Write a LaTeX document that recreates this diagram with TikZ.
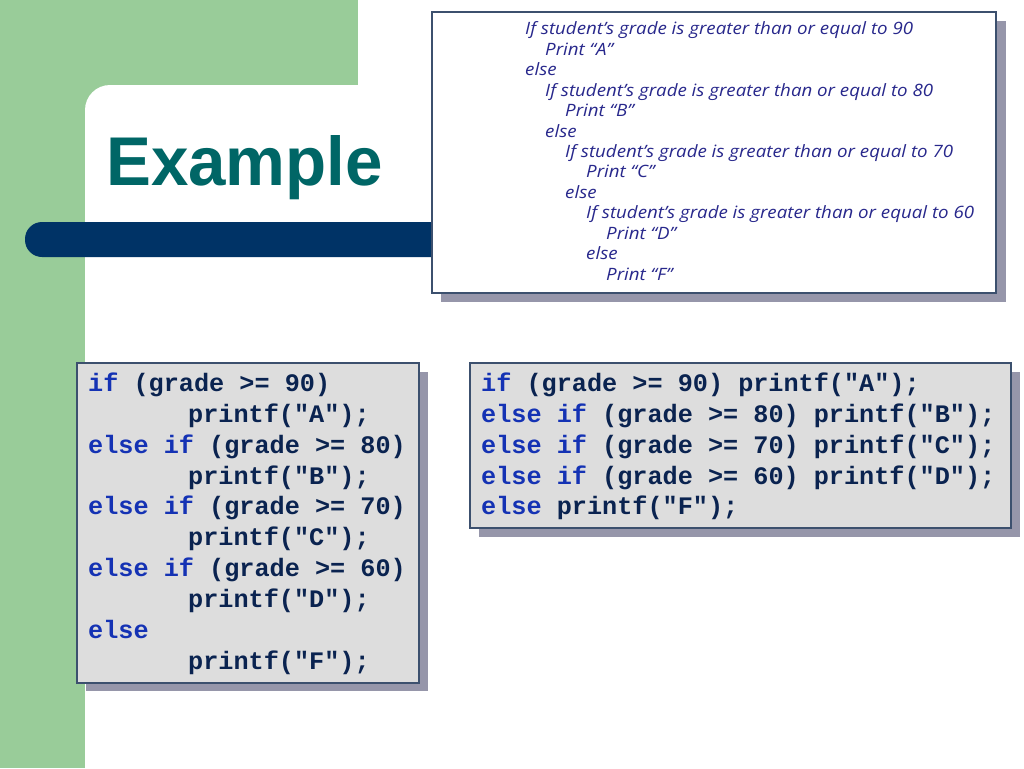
\documentclass[tikz,border=0pt]{standalone}
\usepackage{fontspec}
\setmainfont{Liberation Sans}
\newfontfamily\titlefont{Liberation Sans}
\newfontfamily\codefont{Liberation Mono}
\newfontfamily\notefont{Open Sans}
\definecolor{slgreen}{RGB}{153,204,153}
\definecolor{slbar}{RGB}{0,51,102}
\definecolor{sltitle}{RGB}{0,102,102}
\definecolor{shadowc}{RGB}{150,150,170}
\definecolor{borderc}{RGB}{60,80,110}
\definecolor{codebg}{RGB}{221,221,221}
\definecolor{kw}{RGB}{20,50,180}
\definecolor{codetx}{RGB}{10,35,80}
\definecolor{notec}{RGB}{40,40,140}
\begin{document}
\begin{tikzpicture}[x=1pt,y=-1pt,
  box/.style={draw=borderc,line width=1.2pt},
  noteline/.style={anchor=base west,inner sep=0pt,text=notec,xscale=1.1,font=\notefont\itshape\fontsize{17}{19}\selectfont},
  codeline/.style={anchor=base west,inner sep=0pt,text=codetx,font=\codefont\bfseries\fontsize{25.2}{28}\selectfont}]
\useasboundingbox (0,0) rectangle (1024,768);
\fill[white] (0,0) rectangle (1024,768);
% green background
\fill[slgreen] (0,0) rectangle (358,85);
\fill[slgreen] (0,0) rectangle (85,768);
\fill[slgreen] (85,85) rectangle (115,115);
\fill[white,rounded corners=25pt] (85,85) rectangle (200,200);
% blue bar
\fill[slbar,rounded corners=17pt] (25,222) rectangle (640,257);
% title
\node[anchor=base west,inner sep=0pt,text=sltitle,font=\titlefont\bfseries\fontsize{69}{80}\selectfont,xscale=0.975] (title) at (106,185) {Example};
% top note box
\fill[shadowc] (441,21) rectangle (1006,302);
\fill[white] (432,12) rectangle (996,293);
\draw[box] (432,12) rectangle (996,293);
\node[noteline] (t1) at (525,35) {If student’s grade is greater than or equal to 90};
\node[noteline] (t2) at (545,55.4) {Print “A”};
\node[noteline] (t3) at (525,75.8) {else};
\node[noteline] (t4) at (545,96.3) {If student’s grade is greater than or equal to 80};
\node[noteline] (t5) at (565,116.7) {Print “B”};
\node[noteline] (t6) at (545,137.1) {else};
\node[noteline] (t7) at (565,157.5) {If student’s grade is greater than or equal to 70};
\node[noteline] (t8) at (586,177.9) {Print “C”};
\node[noteline] (t9) at (565,198.4) {else};
\node[noteline] (t10) at (586,218.8) {If student’s grade is greater than or equal to 60};
\node[noteline] (t11) at (606,239.2) {Print “D”};
\node[noteline] (t12) at (586,259.6) {else};
\node[noteline] (t13) at (606,280) {Print “F”};
% left code box
\fill[shadowc] (86,372) rectangle (428,691);
\fill[codebg] (77,363) rectangle (419,683);
\draw[box] (77,363) rectangle (419,683);
\node[codeline] (L1) at (88,391) {{\color{kw}if} (grade >= 90)};
\node[codeline] (L2) at (188,422) {printf("A");};
\node[codeline] (L3) at (88,453) {{\color{kw}else if} (grade >= 80)};
\node[codeline] (L4) at (188,484) {printf("B");};
\node[codeline] (L5) at (88,514) {{\color{kw}else if} (grade >= 70)};
\node[codeline] (L6) at (188,545) {printf("C");};
\node[codeline] (L7) at (88,576) {{\color{kw}else if} (grade >= 60)};
\node[codeline] (L8) at (188,607) {printf("D");};
\node[codeline] (L9) at (88,638) {{\color{kw}else}};
\node[codeline] (L10) at (188,669) {printf("F");};
% right code box
\fill[shadowc] (479,372) rectangle (1020,537);
\fill[codebg] (470,363) rectangle (1011,528);
\draw[box] (470,363) rectangle (1011,528);
\node[codeline] (R1) at (481,391) {{\color{kw}if} (grade >= 90) printf("A");};
\node[codeline] (R2) at (481,422) {{\color{kw}else if} (grade >= 80) printf("B");};
\node[codeline] (R3) at (481,453) {{\color{kw}else if} (grade >= 70) printf("C");};
\node[codeline] (R4) at (481,484) {{\color{kw}else if} (grade >= 60) printf("D");};
\node[codeline] (R5) at (481,514) {{\color{kw}else} printf("F");};
\end{tikzpicture}
\end{document}
